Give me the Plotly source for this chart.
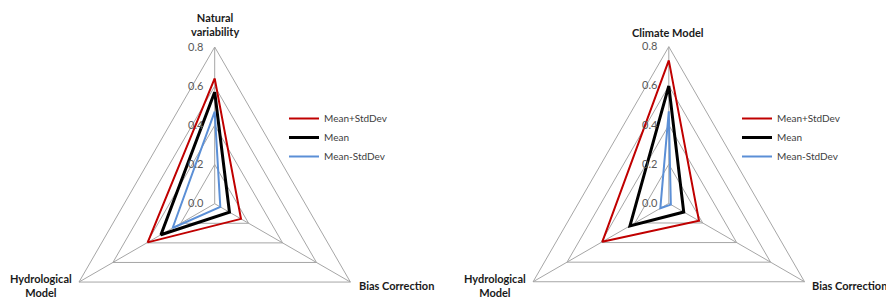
import plotly.graph_objects as go

# ---- data ----
series_names = ["Mean+StdDev", "Mean", "Mean-StdDev"]
series_colors = ["#C00000", "#000000", "#5B8FD6"]
series_widths = [2, 3, 2]

left_categories = ["Natural<br>variability", "Bias Correction", "Hydrological<br>Model"]
left_plus = [0.64, 0.155, 0.395]
left_mean = [0.57, 0.087, 0.317]
left_minus = [0.47, 0.033, 0.248]

right_categories = ["Climate Model", "Bias Correction", "Hydrological<br>Model"]
right_plus = [0.73, 0.178, 0.392]
right_mean = [0.60, 0.088, 0.229]
right_minus = [0.47, 0.012, 0.05]

radial_ticks = [0.0, 0.2, 0.4, 0.6, 0.8]

W, H = 886, 362
fig = go.Figure()


def closed(v):
    return list(v) + [v[0]]


for sub, cats, vals, leg in [
    ("polar", left_categories, [left_plus, left_mean, left_minus], "legend"),
    ("polar2", right_categories, [right_plus, right_mean, right_minus], "legend2"),
]:
    for name, col, lw, v in zip(series_names, series_colors, series_widths, vals):
        fig.add_trace(go.Scatterpolar(
            r=closed(v), theta=closed(cats), mode="lines", name=name,
            line=dict(color=col, width=lw, shape="linear"),
            subplot=sub, legend=leg, hoverinfo="skip",
        ))


def polar_layout(cx, cy, R):
    x0, x1 = (cx - R) / W, (cx + R) / W
    y0, y1 = 1 - (cy + R) / H, 1 - (cy - R) / H
    return dict(
        domain=dict(x=[x0, x1], y=[y0, y1]),
        gridshape="linear",
        bgcolor="white",
        angularaxis=dict(
            direction="clockwise", rotation=90,
            showline=True, linecolor="#A6A6A6", linewidth=1,
            showgrid=True, gridcolor="#A6A6A6", gridwidth=1,
            ticks="", showticklabels=False,
        ),
        radialaxis=dict(
            range=[0, 0.8], tickvals=radial_ticks, tickformat=".1f",
            showline=False, showgrid=True, gridcolor="#A6A6A6", gridwidth=1,
            ticks="outside", ticklen=7, tickcolor="rgba(0,0,0,0)",
            angle=90, tickangle=90, side="counterclockwise",
            tickfont=dict(family="Lato", size=11, color="#595959"),
        ),
    )


R = 156.7
bold = dict(family="Lato", size=11, color="#1a1a1a", weight="bold")


def label(text, x, y, xanchor="center"):
    return dict(text=text, x=x / W, y=1 - y / H, xref="paper", yref="paper",
                xanchor=xanchor, yanchor="middle", showarrow=False, font=bold,
                align="center")


annotations = [
    label(left_categories[0], 215, 24),
    label(left_categories[1], 357, 285, "left"),
    label(left_categories[2], 41, 285),
    label(right_categories[0], 668, 32),
    label(right_categories[1], 810, 285, "left"),
    label(right_categories[2], 495, 285),
]

legend_common = dict(yanchor="top", xanchor="left",
                     font=dict(family="Lato", size=10, color="#404040"),
                     bgcolor="rgba(0,0,0,0)", itemwidth=30, tracegroupgap=0)

fig.update_layout(
    width=W, height=H,
    margin=dict(l=0, r=0, t=0, b=0),
    paper_bgcolor="white",
    polar=polar_layout(214.7, 203.7, R),
    polar2=polar_layout(668.8, 203.4, R),
    legend=dict(x=284 / W, y=1 - 104 / H, **legend_common),
    legend2=dict(x=737 / W, y=1 - 104 / H, **legend_common),
    annotations=annotations,
    showlegend=True,
)

fig.write_html(
    "out.html",
    config={"displayModeBar": False},
    post_script="document.body.style.margin='0';document.body.style.overflow='hidden';document.documentElement.style.overflow='hidden';",
)
